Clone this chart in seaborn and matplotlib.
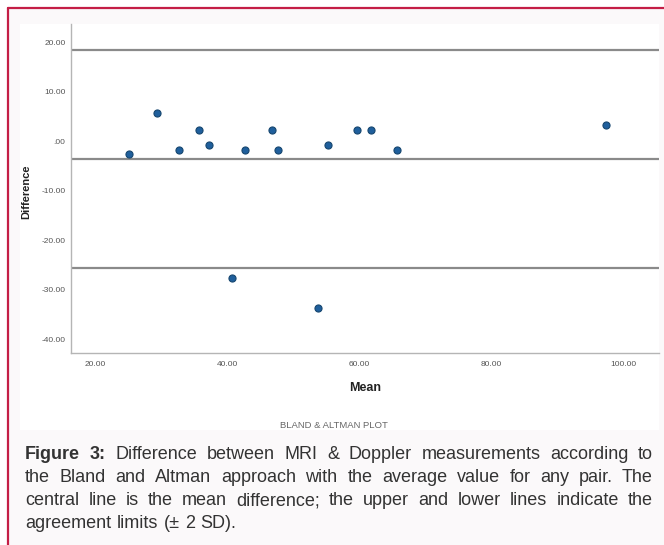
import matplotlib
matplotlib.use('Agg')
import matplotlib.pyplot as plt
from matplotlib.patches import Rectangle
from matplotlib.lines import Line2D
import seaborn as sns
import pandas as pd

# Bland-Altman data
mean_vals = [25.1, 29.4, 32.7, 35.7, 37.2, 40.7, 42.7, 46.7, 47.7, 53.8, 55.3, 59.7, 61.7, 65.7, 97.3]
diff_vals = [-2.6, 5.7, -1.8, 2.3, -0.7, -27.7, -1.8, 2.3, -1.8, -33.7, -0.7, 2.3, 2.3, -1.8, 3.3]
mean_diff = -3.65
upper_limit = 18.35
lower_limit = -25.65

x_ticks = [20, 40, 60, 80, 100]
x_tick_labels = ['20.00', '40.00', '60.00', '80.00', '100.00']
y_ticks = [20, 10, 0, -10, -20, -30, -40]
y_tick_labels = ['20.00', '10.00', '.00', '-10.00', '-20.00', '-30.00', '-40.00']

caption_lines = [
    'Figure 3: Difference between MRI & Doppler measurements according to',
    'the Bland and Altman approach with the average value for any pair. The',
    'central line is the mean difference; the upper and lower lines indicate the',
    'agreement limits (± 2 SD).',
]

df = pd.DataFrame({'Mean': mean_vals, 'Difference': diff_vals})

W, H = 664, 545
sns.set_style('white')
plt.rcParams['font.family'] = ['Liberation Sans', 'DejaVu Sans']

fig = plt.figure(figsize=(W / 100, H / 100), dpi=100)
fig.patch.set_facecolor('white')


def fx(x):
    return x / W


def fy(y):
    return 1 - y / H


# page background inside the red frame, then the white chart panel
fig.add_artist(Rectangle((fx(8), 0), 1, fy(8), transform=fig.transFigure,
                         facecolor='#fbf9fa', edgecolor='none', zorder=-2))
fig.add_artist(Rectangle((fx(20), fy(430)), fx(659) - fx(20), fy(24) - fy(430),
                         transform=fig.transFigure, facecolor='white',
                         edgecolor='none', zorder=-1))
fig.add_artist(Line2D([fx(8), fx(8)], [0, fy(8)], transform=fig.transFigure,
                      color='#c41e46', lw=1.6, zorder=1))
fig.add_artist(Line2D([fx(8), 1], [fy(8), fy(8)], transform=fig.transFigure,
                      color='#c41e46', lw=1.6, zorder=1))

ax = fig.add_axes([fx(71), fy(353), fx(659) - fx(71), fy(24) - fy(353)])
ax.set_zorder(2)
ax.set_facecolor('white')

for yv in [upper_limit, mean_diff, lower_limit]:
    ax.axhline(yv, color='#8a8a8a', lw=1.6, zorder=1)

sns.scatterplot(data=df, x='Mean', y='Difference', ax=ax, s=26,
                color='#1f5f9c', edgecolor='#16466f', linewidth=0.8, zorder=3)

ax.set_xlim(16.3, 105.4)
ax.set_ylim(-42.8, 23.7)
ax.set_xticks(x_ticks)
ax.set_xticklabels(x_tick_labels)
ax.set_yticks(y_ticks)
ax.set_yticklabels(y_tick_labels)
ax.tick_params(axis='both', length=0, labelsize=6, colors='#555555')
ax.tick_params(axis='x', pad=6)
ax.tick_params(axis='y', pad=4)

for side in ['top', 'right']:
    ax.spines[side].set_visible(False)
for side in ['left', 'bottom']:
    ax.spines[side].set_color('#b5b5b5')
    ax.spines[side].set_linewidth(1.0)

ax.set_xlabel('Mean', fontsize=9, fontweight='bold', color='#222222')
ax.set_ylabel('Difference', fontsize=8, fontweight='bold', color='#222222')
ax.xaxis.set_label_coords((365 - 71) / (659 - 71), -(382 - 353) / (353 - 24))
ax.yaxis.set_label_coords(-(71 - 31) / (659 - 71), (353 - 192) / (353 - 24))

fig.text(fx(334), fy(426), 'BLAND & ALTMAN PLOT', fontsize=6.8, color='#666666',
         ha='center', va='center')

# justified caption, placed word by word
renderer = fig.canvas.get_renderer()
left, right = 25, 653
line_y = [459, 482, 505, 528]
for li, line in enumerate(caption_lines):
    words = line.split(' ')
    texts = []
    for wi, word in enumerate(words):
        bold = li == 0 and wi < 2
        t = fig.text(0, fy(line_y[li]), word, fontsize=13, color='#333333',
                     fontweight='bold' if bold else 'normal', va='baseline', ha='left')
        texts.append(t)
    widths = [t.get_window_extent(renderer).width for t in texts]
    if li < len(caption_lines) - 1:
        gap = (right - left - sum(widths)) / (len(words) - 1)
    else:
        gap = 5.5
    x = left
    for t, w in zip(texts, widths):
        t.set_x(fx(x))
        x += w + gap

fig.savefig('out.png', dpi=100)
